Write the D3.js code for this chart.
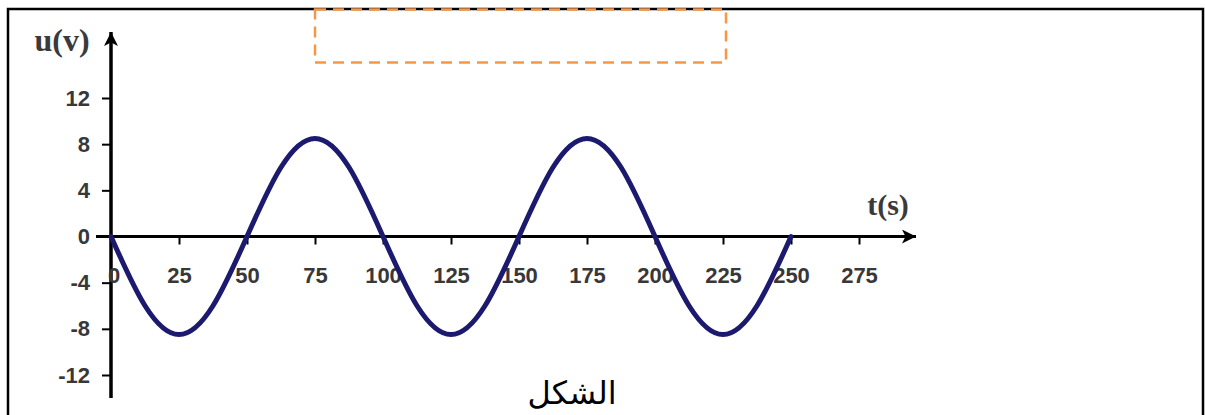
<!DOCTYPE html>
<html><head><meta charset="utf-8">
<script src="https://cdn.jsdelivr.net/npm/d3@7/dist/d3.min.js"></script>
<style>html,body{margin:0;padding:0;background:#fff;overflow:hidden}</style>
</head><body>
<svg id="c" width="1205" height="415"></svg>
<script>
// ---- data ----
const times   = [0, 12.5, 25, 37.5, 50, 62.5, 75, 87.5, 100, 112.5, 125, 137.5, 150, 162.5, 175, 187.5, 200, 212.5, 225, 237.5, 250];
const voltage = [0, -6, -8.5, -6, 0, 6, 8.5, 6, 0, -6, -8.5, -6, 0, 6, 8.5, 6, 0, -6, -8.5, -6, 0];
const xTicks  = [25, 50, 75, 100, 125, 150, 175, 200, 225, 250, 275];
const yTicks  = [-12, -8, -4, 0, 4, 8, 12];
const yLabel  = "u(v)";
const xLabel  = "t(s)";
const caption = "الشكل";

const svg = d3.select("#c");
const x = d3.scaleLinear().domain([0, 275]).range([111, 859]);
const y = d3.scaleLinear().domain([-12, 12]).range([375, 98]);
const fmt = d => String(d); // plain hyphen minus as in the picture

// frame
svg.append("rect").attr("x", 8).attr("y", 9).attr("width", 1195).attr("height", 430)
  .attr("fill", "none").attr("stroke", "#000").attr("stroke-width", 2.5);

// orange dashed box
svg.append("rect").attr("x", 315).attr("y", 9.5).attr("width", 411).attr("height", 53)
  .attr("fill", "none").attr("stroke", "#f79646").attr("stroke-width", 2.5)
  .attr("stroke-dasharray", "11,7");

const defs = svg.append("defs");
defs.append("marker").attr("id", "arr").attr("viewBox", "0 0 10 10")
  .attr("refX", 10).attr("refY", 5).attr("markerWidth", 17).attr("markerHeight", 14)
  .attr("markerUnits", "userSpaceOnUse").attr("orient", "auto")
  .append("path").attr("d", "M0,0 L10,5 L0,10 L2.5,5 Z").attr("fill", "#000");

// axes lines
svg.append("line").attr("x1", 96).attr("y1", y(0)).attr("x2", 916).attr("y2", y(0))
  .attr("stroke", "#000").attr("stroke-width", 3).attr("marker-end", "url(#arr)");
svg.append("line").attr("x1", x(0)).attr("y1", 398).attr("x2", x(0)).attr("y2", 32)
  .attr("stroke", "#000").attr("stroke-width", 3.5).attr("marker-end", "url(#arr)");

const textFill = "#383838";
const font = "Liberation Sans, Arial, sans-serif";
// y axis ticks
const ya = svg.append("g").attr("transform", `translate(${x(0)},0)`)
  .call(d3.axisLeft(y).tickValues(yTicks).tickSize(9).tickPadding(12).tickFormat(fmt));
ya.select(".domain").remove();
ya.selectAll("line").attr("stroke", "#000").attr("stroke-width", 2);
ya.selectAll("text").attr("font-family", font)
  .attr("font-size", 22).attr("font-weight", "bold").attr("fill", textFill);

// x axis ticks
const xa = svg.append("g").attr("transform", `translate(0,${y(0)})`)
  .call(d3.axisBottom(x).tickValues(xTicks).tickSize(8).tickPadding(23).tickFormat(fmt));
xa.select(".domain").remove();
xa.selectAll("line").attr("stroke", "#000").attr("stroke-width", 2);
xa.selectAll("text").attr("font-family", font)
  .attr("font-size", 22).attr("font-weight", "bold").attr("fill", textFill);
// "0" at origin (below axis, overlapped by curve)
svg.append("text").attr("x", x(0) + 3).attr("y", y(0) + 31).attr("dy", "0.71em")
  .attr("text-anchor", "middle").attr("font-family", font)
  .attr("font-size", 22).attr("font-weight", "bold").attr("fill", textFill).text("0");

// axis titles
svg.append("text").attr("x", 62).attr("y", 51).attr("text-anchor", "middle")
  .attr("font-family", "Liberation Serif, Times New Roman, serif").attr("font-size", 32)
  .attr("font-weight", "bold").attr("fill", "#3a3a3a").text(yLabel);
svg.append("text").attr("x", 888).attr("y", 215).attr("text-anchor", "middle")
  .attr("font-family", "Liberation Serif, Times New Roman, serif").attr("font-size", 30)
  .attr("font-weight", "bold").attr("fill", "#3a3a3a").text(xLabel);

// curve
const pts = times.map((t, i) => [t, voltage[i]]);
svg.append("path").datum(pts)
  .attr("d", d3.line().x(d => x(d[0])).y(d => y(d[1])).curve(d3.curveNatural))
  .attr("fill", "none").attr("stroke", "#1c1a6e").attr("stroke-width", 5)
  .attr("stroke-linecap", "round");

// caption
svg.append("text").attr("x", 572).attr("y", 404).attr("text-anchor", "middle")
  .attr("font-family", "DejaVu Sans, sans-serif").attr("font-size", 32)
  .attr("fill", "#000").text(caption);
</script>
</body></html>
